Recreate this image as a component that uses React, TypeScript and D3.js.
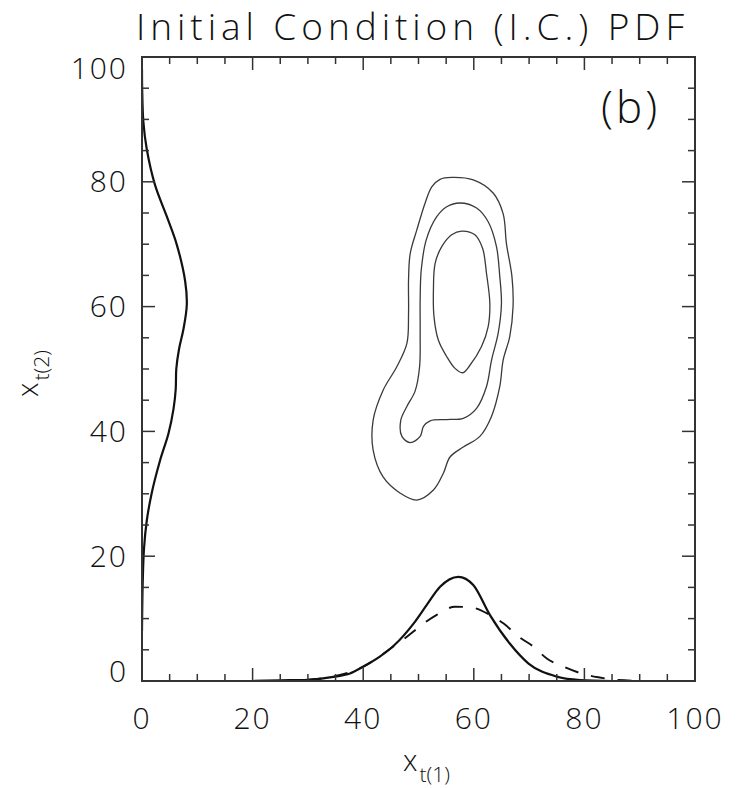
import React from 'react';
import * as d3 from 'd3';

// ---- data ----
const xTickValues = [0, 20, 40, 60, 80, 100];
const yTickValues = [0, 20, 40, 60, 80, 100];
const xTickLabels = ['0', '20', '40', '60', '80', '100'];
const yTickLabels = ['0', '20', '40', '60', '80', '100'];

// marginal PDF of x_t(1) (bottom), solid
const solidX = [20, 25, 30, 34.9, 37.6, 40, 43, 45.7, 49.1, 51.5, 53.9, 57.2, 59.9, 62.9, 66.5, 69.9, 75, 79.2, 85];
const solidH = [0, 0.1, 0.2, 0.7, 1.2, 2.3, 3.9, 5.8, 9.2, 12.2, 15.1, 16.7, 15.4, 10.6, 6.0, 2.8, 0.7, 0.15, 0];
// marginal PDF of x_t(1) (bottom), dashed
const dashX = [25, 30, 35, 40, 45.4, 47.9, 50.6, 53.3, 56.6, 59.5, 62.9, 65.4, 68.1, 70.8, 73.2, 76.2, 79.5, 82.5, 86, 92];
const dashH = [0, 0.2, 0.8, 2.3, 5.5, 7.1, 9.0, 10.6, 11.9, 11.8, 10.6, 9.2, 7.1, 5.5, 3.6, 2.3, 1.2, 0.6, 0.15, 0];
// marginal PDF of x_t(2) (left)
const leftY = [8, 15.4, 21.2, 25.6, 30.1, 35.3, 39.7, 43.6, 46.8, 50, 53.2, 56.4, 60.3, 64.1, 69.9, 74.4, 79.5, 85.3, 89.7, 95, 98];
const leftH = [0, 0.12, 0.36, 0.85, 1.75, 3.25, 4.8, 5.7, 6.1, 6.2, 6.7, 7.5, 8.1, 7.8, 6.3, 4.5, 2.35, 0.85, 0.24, 0.03, 0];

// joint PDF contours (closed outlines)
const outerX = [56.0, 59.9, 63.5, 65.3, 65.9, 66.9, 67.1, 66.5, 65.3, 64.7, 63.2, 61.1, 58.1, 55.7, 54.5, 52.7, 49.7, 46.7, 43.6, 41.8, 41.8, 43.6, 46.1, 47.9, 48.2, 48.2, 48.5, 49.7, 51.2, 52.4, 53.9];
const outerY = [80.7, 80.3, 78.2, 74.9, 70.1, 64.8, 60.0, 55.2, 51.4, 47.2, 42.4, 39.2, 37.5, 35.9, 33.3, 30.6, 29.0, 30.1, 32.7, 37.0, 41.8, 46.6, 50.4, 54.1, 58.9, 64.3, 68.5, 72.3, 76.6, 79.2, 80.4];
const middleX = [57.5, 60.5, 62.6, 64.1, 64.7, 65.0, 64.4, 63.2, 62.3, 60.5, 58.1, 55.1, 52.1, 50.9, 50.3, 48.5, 47.0, 46.8, 47.9, 49.4, 50.2, 50.3, 50.3, 50.5, 51.4, 53.3, 55.1];
const middleY = [76.6, 75.8, 73.6, 69.6, 64.8, 60.5, 55.7, 51.4, 47.2, 43.7, 42.1, 41.9, 41.7, 40.8, 39.2, 38.2, 39.2, 41.8, 44.0, 46.5, 50.4, 55.7, 61.1, 65.9, 70.7, 74.4, 76.0];
const innerX = [57.8, 60.2, 61.6, 62.3, 62.9, 62.6, 61.4, 59.3, 58.0, 56.6, 55.1, 53.6, 52.8, 52.7, 53.0, 54.2, 56.0];
const innerY = [72.1, 71.5, 69.3, 65.3, 60.5, 56.8, 53.6, 50.6, 49.4, 50.1, 52.0, 54.6, 58.4, 62.7, 66.9, 69.6, 71.5];

const titleText = 'Initial Condition (I.C.) PDF';
const panelText = '(b)';

export default function App() {
  const W = 737;
  const H = 788;
  const left = 142, right = 695, top = 57, bottom = 681;
  const x = d3.scaleLinear().domain([0, 100]).range([left, right]);
  const y = d3.scaleLinear().domain([0, 100]).range([bottom, top]);

  const minor = d3.range(0, 101, 5);
  const isMajor = (v: number) => v % 20 === 0;
  const majorLen = 13, minorLen = 7;

  const lineBottom = d3.line<number>().x((_, i) => x(solidX[i])).y((d) => y(d)).curve(d3.curveMonotoneX);
  const lineDash = d3.line<number>().x((_, i) => x(dashX[i])).y((d) => y(d)).curve(d3.curveMonotoneX);
  const lineLeft = d3.line<number>().x((d) => x(d)).y((_, i) => y(leftY[i])).curve(d3.curveCatmullRom.alpha(0.5));

  const closed = d3.line<[number, number]>().x((d) => x(d[0])).y((d) => y(d[1])).curve(d3.curveCatmullRomClosed.alpha(0.5));
  const contours = [
    outerX.map((v, i) => [v, outerY[i]] as [number, number]),
    middleX.map((v, i) => [v, middleY[i]] as [number, number]),
    innerX.map((v, i) => [v, innerY[i]] as [number, number]),
  ];

  const font = "'Open Sans', 'Liberation Sans', Arial, sans-serif";
  const fw = 300;
  const axisColor = '#333';
  const textColor = '#111';

  const yLabelBaseline = (v: number) => {
    if (v === 0) return y(v) + 1;
    if (v === 100) return y(v) + 22;
    return y(v) + 10.5;
  };

  return (
    <svg width={W} height={H} style={{ position: 'absolute', left: 0, top: 0, background: '#fff' }}>
      <defs>
        <clipPath id="plotclip">
          <rect x={left} y={top} width={right - left} height={bottom - top} />
        </clipPath>
      </defs>
      <rect x={0} y={0} width={W} height={H} fill="#fff" />
      {/* title */}
      <text x={136} y={40} fontFamily={font} fontWeight={fw} fontSize={37} fill={textColor} textLength={548} lengthAdjust="spacing">
        {titleText}
      </text>

      <g clipPath="url(#plotclip)">
        {/* contours */}
        {contours.map((c, i) => (
          <path key={i} d={closed(c) || ''} fill="none" stroke="#3a3a3a" strokeWidth={1.3} />
        ))}

        {/* marginals */}
        <path d={lineDash(dashH) || ''} fill="none" stroke="#111" strokeWidth={1.9} strokeDasharray="14 13" />
        <path d={lineBottom(solidH) || ''} fill="none" stroke="#111" strokeWidth={2.2} />
        <path d={lineLeft(leftH) || ''} fill="none" stroke="#111" strokeWidth={2.2} />
      </g>

      {/* ticks */}
      {minor.map((v) => {
        const L = isMajor(v) ? majorLen : minorLen;
        return (
          <g key={'t' + v} stroke={axisColor} strokeWidth={1.5}>
            <line x1={x(v)} x2={x(v)} y1={bottom} y2={bottom - L} />
            <line x1={x(v)} x2={x(v)} y1={top} y2={top + L} />
            <line x1={left} x2={left + L} y1={y(v)} y2={y(v)} />
            <line x1={right} x2={right - L} y1={y(v)} y2={y(v)} />
          </g>
        );
      })}

      {/* box */}
      <rect x={left} y={top} width={right - left} height={bottom - top} fill="none" stroke={axisColor} strokeWidth={2} />

      {/* tick labels */}
      {xTickValues.map((v, i) => (
        <text key={'xl' + v} x={x(v)} y={729} textAnchor="middle" fontFamily={font} fontWeight={fw} fontSize={30} fill={textColor} letterSpacing={2}>
          {xTickLabels[i]}
        </text>
      ))}
      {yTickValues.map((v, i) => (
        <text key={'yl' + v} x={128} y={yLabelBaseline(v)} textAnchor="end" fontFamily={font} fontWeight={fw} fontSize={30} fill={textColor} letterSpacing={2}>
          {yTickLabels[i]}
        </text>
      ))}

      {/* panel label */}
      <text x={601} y={123} fontFamily={font} fontWeight={fw} fontSize={44} fill={textColor} letterSpacing={3}>
        {panelText}
      </text>

      {/* axis titles */}
      <text x={403} y={771} fontFamily={font} fontWeight={fw} fontSize={29} fill={textColor}>
        x
        <tspan dx={2} dy={11} fontSize={21} fill={textColor}>t(1)</tspan>
      </text>
      <g transform="translate(38,397) rotate(-90)">
        <text x={0} y={0} fontFamily={font} fontWeight={fw} fontSize={29} fill={textColor}>
          x
          <tspan dx={2} dy={11} fontSize={21} fill={textColor}>t(2)</tspan>
        </text>
      </g>
    </svg>
  );
}
